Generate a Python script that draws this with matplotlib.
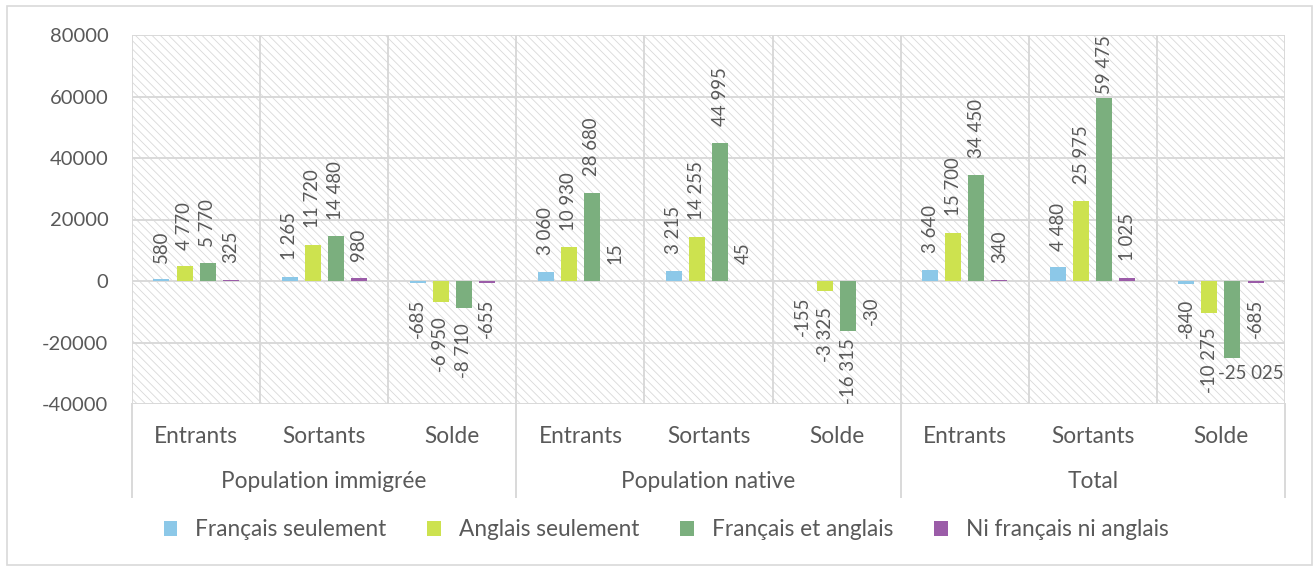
import numpy as np
import matplotlib
matplotlib.use("Agg")
import matplotlib.pyplot as plt
from matplotlib.patches import Rectangle, Patch
from matplotlib.transforms import blended_transform_factory

# -----------------------
# Data
# -----------------------
groups = ["Population immigrée", "Population native", "Total"]
flows = ["Entrants", "Sortants", "Solde"]
series = ["Français seulement", "Anglais seulement", "Français et anglais", "Ni français ni anglais"]

francais = [580, 1265, -685, 3060, 3215, -155, 3640, 4480, -840]
anglais = [4770, 11720, -6950, 10930, 14255, -3325, 15700, 25975, -10275]
les_deux = [5770, 14480, -8710, 28680, 44995, -16315, 34450, 59475, -25025]
aucune = [325, 980, -655, 15, 45, -30, 340, 1025, -685]

values = [francais, anglais, les_deux, aucune]
colors = ["#8cc8e8", "#cde24f", "#7baf7e", "#9b5ca8"]

# label drawn flat instead of vertical (too long for the plot area)
flat_labels = [(2, 8)]

txt = "#595959"
grid_c = "#d9d9d9"

plt.rcParams['font.family'] = ['Lato', 'DejaVu Sans']
plt.rcParams['hatch.linewidth'] = 0.6

fs_tick, fs_lab, fs_cat = 14.5, 13.4, 16.3

# -----------------------
# Figure
# -----------------------
fig = plt.figure(figsize=(13.15, 5.68), dpi=100)
ax = fig.add_axes([132 / 1315, 1 - 404 / 568, (1285 - 132) / 1315, (404 - 35) / 568])
ax.set_xlim(-0.5, 8.5)
ax.set_ylim(-40000, 80000)

# hatched background
ax.add_patch(Rectangle((0, 0), 1, 1, transform=ax.transAxes, facecolor="white",
                       edgecolor="#d9d9d9", hatch="\\\\\\\\", linewidth=0, zorder=0))

for s in ax.spines.values():
    s.set_visible(False)

yt = np.arange(-40000, 80001, 20000)
ax.set_yticks(yt)
ax.set_yticklabels([str(v) for v in yt])
ax.tick_params(axis='y', length=0, pad=17, labelsize=fs_tick, labelcolor=txt)
ax.set_xticks([])
for yv in yt:
    ax.axhline(yv, color=grid_c, lw=1.4, zorder=1)
for xv in np.arange(-0.5, 9, 1):
    ax.axvline(xv, color=grid_c, lw=1.4, zorder=1)

# bars
x = np.arange(9)
step, width = 0.18, 0.125
labels = []
for i, (vals, col) in enumerate(zip(values, colors)):
    xs = x + (i - 1.5) * step
    ax.bar(xs, vals, width=width, color=col, zorder=2)
    for j, (xx, v) in enumerate(zip(xs, vals)):
        s = f"{v:,}".replace(",", " ")
        if (i, j) in flat_labels:
            ax.annotate(s, (ax.get_xlim()[1], v), xytext=(-1, -5), textcoords="offset points",
                        ha="right", va="top", fontsize=fs_lab, color=txt, zorder=3)
            continue
        a = ax.annotate(s, (xx, v), xytext=(0, 12 if v >= 0 else -11), textcoords="offset points",
                        rotation=90, ha="center", va="bottom" if v >= 0 else "top",
                        fontsize=fs_lab, color=txt, zorder=3)
        labels.append(a)

# category axis below the plot
tr = blended_transform_factory(ax.transData, ax.transAxes)
for k, g in enumerate(groups):
    for m, f in enumerate(flows):
        ax.text(3 * k + m, -0.087, f, transform=tr, ha="center", va="center",
                fontsize=fs_cat, color=txt)
    ax.text(3 * k + 1, -0.209, g, transform=tr, ha="center", va="center",
            fontsize=fs_cat, color=txt)
for xv in np.arange(-0.5, 9, 3):
    ax.plot([xv, xv], [0, -0.252], transform=tr, color=grid_c, lw=1.4, clip_on=False)

# legend
handles = [Patch(facecolor=c, edgecolor="none") for c in colors]
fig.legend(handles, series, loc="center", bbox_to_anchor=(666 / 1315, 1 - 530 / 568), ncol=4,
           frameon=False, fontsize=fs_cat, labelcolor=txt, handlelength=0.6, handleheight=0.6,
           handletextpad=0.8, columnspacing=1.8)

# outer border
fig.patches.append(Rectangle((7 / 1315, 3 / 568), 1305 / 1315, 559 / 568, transform=fig.transFigure,
                             fill=False, edgecolor=grid_c, lw=1.2))

# keep the vertical labels inside the plot area, like the original
fig.canvas.draw()
r = fig.canvas.get_renderer()
abox = ax.get_window_extent(r)
for a in labels:
    bb = a.get_window_extent(r)
    dx, dy = a.xyann
    if bb.y0 < abox.y0:
        a.xyann = (dx, dy + (abox.y0 - bb.y0) * 72 / fig.dpi)
    elif bb.y1 > abox.y1:
        a.xyann = (dx, dy - (bb.y1 - abox.y1) * 72 / fig.dpi)

fig.savefig("out.png", dpi=100)
